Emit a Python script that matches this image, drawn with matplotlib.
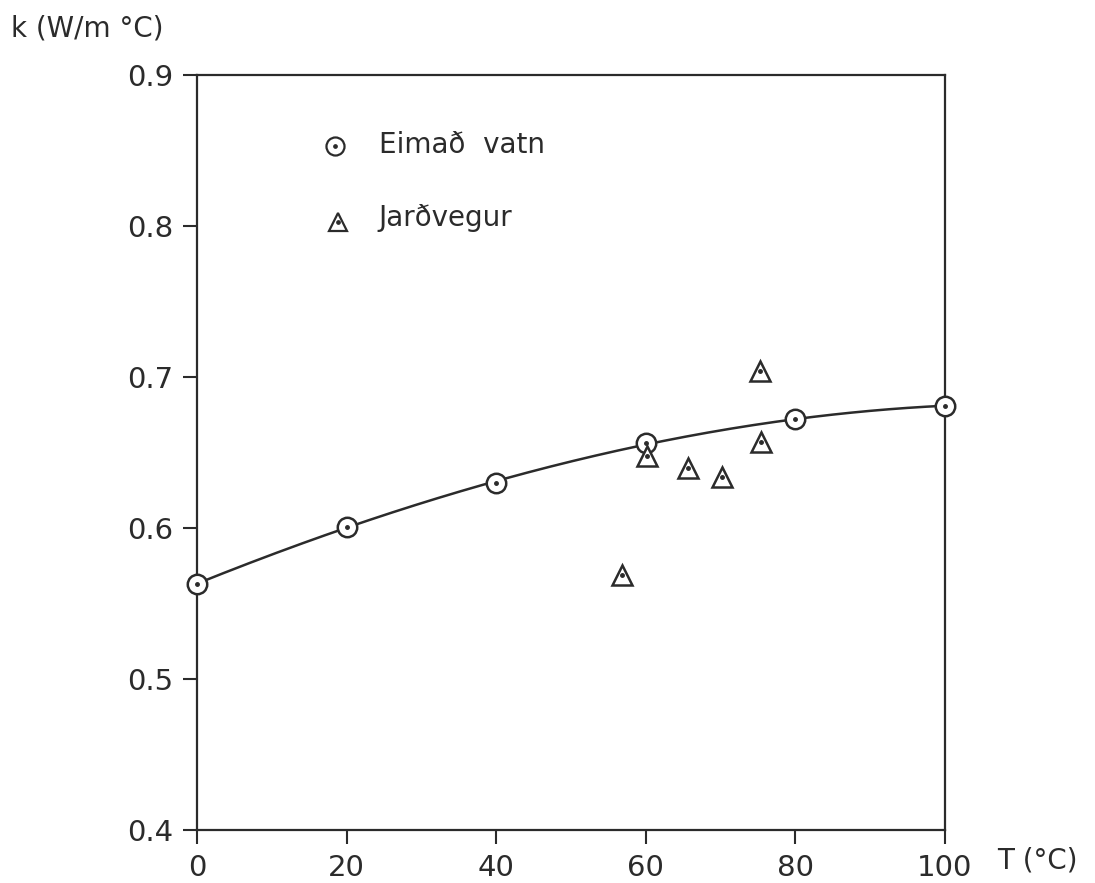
import numpy as np
import matplotlib
matplotlib.use("Agg")
import matplotlib.pyplot as plt

# Data
water_T = [0, 20, 40, 60, 80, 100]
water_k = [0.563, 0.601, 0.630, 0.656, 0.672, 0.681]
soil_T = [56.8, 60.2, 65.6, 70.2, 75.3, 75.4]
soil_k = [0.569, 0.648, 0.640, 0.634, 0.704, 0.657]
xticks = [0, 20, 40, 60, 80, 100]
xtick_labels = ["0", "20", "40", "60", "80", "100"]
yticks = [0.4, 0.5, 0.6, 0.7, 0.8, 0.9]
ytick_labels = ["0.4", "0.5", "0.6", "0.7", "0.8", "0.9"]

ink = "#2b2b2b"
plt.rcParams["font.family"] = ["DejaVu Sans"]

fig = plt.figure(figsize=(10.95, 8.83), dpi=100)
ax = fig.add_axes([0.18, 0.06, 0.683, 0.855])

# smooth curve through water points
coef = np.polyfit(water_T, water_k, 3)
tt = np.linspace(0, 100, 200)
ax.plot(tt, np.polyval(coef, tt), color=ink, lw=1.8, zorder=2)

ax.plot(water_T, water_k, ls="none", marker="o", ms=14, mfc="white",
        mec=ink, mew=1.8, zorder=3, clip_on=False)
ax.plot(water_T, water_k, ls="none", marker="o", ms=2.5, color=ink, zorder=4, clip_on=False)
ax.plot(soil_T, soil_k, ls="none", marker="^", ms=14, mfc="white",
        mec=ink, mew=1.8, zorder=3)
ax.plot(soil_T, soil_k, ls="none", marker="o", ms=2.5, color=ink, zorder=4)

# legend drawn as text in axes
ax.plot([18.4], [0.853], ls="none", marker="o", ms=13, mfc="white", mec=ink, mew=1.6)
ax.plot([18.4], [0.853], ls="none", marker="o", ms=2.4, color=ink)
ax.text(24.3, 0.854, "Eimað  vatn", fontsize=20, va="center", ha="left", color=ink)
ax.plot([18.8], [0.803], ls="none", marker="^", ms=13, mfc="white", mec=ink, mew=1.6)
ax.plot([18.8], [0.803], ls="none", marker="o", ms=2.4, color=ink)
ax.text(24.3, 0.805, "Jarðvegur", fontsize=20, va="center", ha="left", color=ink)

ax.set_xlim(0, 100)
ax.set_ylim(0.4, 0.9)
ax.set_xticks(xticks)
ax.set_xticklabels(xtick_labels)
ax.set_yticks(yticks)
ax.set_yticklabels(ytick_labels)
ax.tick_params(direction="out", length=10, width=1.5, colors=ink, labelsize=21, pad=7)
for s in ax.spines.values():
    s.set_linewidth(1.6)
    s.set_color(ink)

fig.text(0.01, 0.968, "k (W/m °C)", fontsize=20, color=ink, ha="left", va="center")
fig.text(0.911, 0.025, "T (°C)", fontsize=20, color=ink, ha="left", va="center")

fig.savefig("out.png", dpi=100)
